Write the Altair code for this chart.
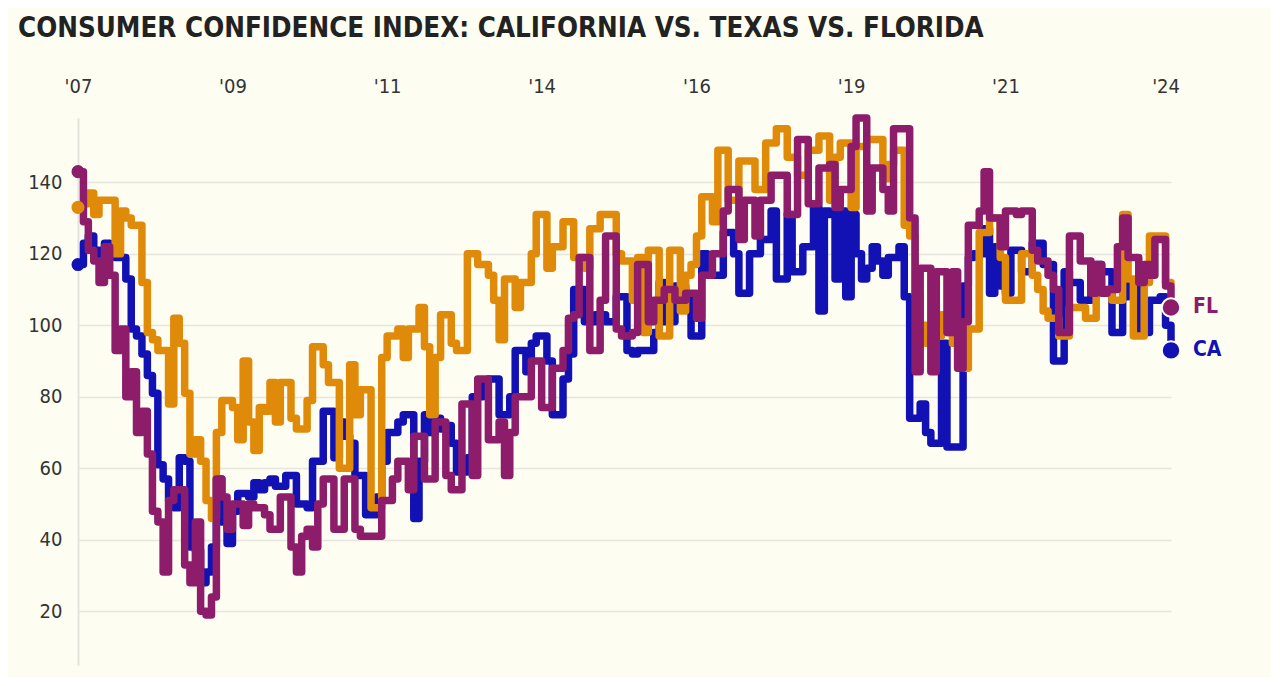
import altair as alt
import pandas as pd

TITLE = "CONSUMER CONFIDENCE INDEX: CALIFORNIA VS. TEXAS VS. FLORIDA"
START = "2007-01-01"

CA = [117,123,125,121,119,123,120,119,119,113,99,97,92,86,81,61,57,51,49,63,62,38,37,28,31,38,57,45,39,48,53,53,52,56,
      54,56,57,55,55,58,58,50,50,49,62,62,76,76,63,73,69,67,58,58,47,47,52,62,70,70,73,75,75,46,62,75,70,74,71,72,
      67,59,59,63,80,80,84,85,85,75,75,80,93,93,87,95,97,97,90,75,75,85,92,110,110,101,101,103,103,101,101,108,108,93,
      92,93,93,93,98,112,101,101,111,111,107,97,97,120,114,114,114,126,126,120,109,109,120,120,124,124,132,113,113,131,115,115,122,122,133,104,132,
      131,113,132,108,131,120,113,116,122,118,114,119,119,122,108,74,74,78,70,67,67,95,66,66,66,111,119,120,120,127,109,122,
      111,109,121,121,115,115,123,123,117,117,90,90,115,112,112,107,107,117,117,115,115,98,98,108,112,112,98,98,107,107,108,100,93]

TX = [133,134,137,131,135,135,135,120,132,130,128,128,112,98,96,93,93,78,102,95,81,64,68,62,51,46,70,79,79,77,68,90,73,65,
      77,76,84,73,84,84,74,71,71,79,94,94,89,84,84,60,60,89,75,82,82,49,49,91,97,97,99,91,99,99,105,94,75,91,103,103,
      95,93,93,120,120,117,117,114,107,96,113,113,105,112,112,120,131,131,116,122,122,129,129,119,119,116,127,127,131,131,131,120,118,118,
      107,119,98,121,121,97,97,121,121,104,114,117,125,136,136,129,149,149,135,135,146,146,146,138,138,151,151,155,155,147,147,142,142,149,149,153,153,
      135,147,151,151,133,150,150,152,152,152,141,145,149,149,128,125,109,100,95,100,97,103,98,95,88,88,99,99,126,126,130,130,
      119,107,107,107,120,120,114,110,104,102,102,97,97,105,105,105,102,102,113,110,110,107,107,131,113,97,97,112,125,125,125,112,112]

FL = [143,129,121,118,112,122,114,93,99,80,87,70,76,64,48,45,31,51,54,54,33,28,45,20,19,24,57,52,43,50,50,44,50,49,
      49,47,43,43,52,52,38,31,41,43,38,50,57,57,43,43,57,57,43,41,41,41,41,51,51,57,62,62,54,69,69,57,57,73,73,58,
      54,54,78,78,58,85,85,68,68,73,58,70,80,80,80,90,90,77,77,88,88,93,102,103,119,119,93,93,107,125,125,99,97,97,
      98,117,117,101,107,107,110,110,107,107,109,109,102,114,114,120,120,132,138,138,124,135,135,125,135,135,142,142,142,131,131,152,152,134,134,144,144,
      145,133,138,138,150,158,158,132,144,144,138,132,155,155,155,130,87,116,116,87,115,115,98,115,88,101,128,128,132,143,130,130,
      122,132,132,131,132,132,121,118,118,114,110,98,98,125,125,118,118,109,117,109,110,110,122,130,119,119,112,117,114,124,124,111,105]

SERIES = ["CA", "TX", "FL"]
COLORS = ["#1212b4", "#e08a0a", "#8d1c6b"]
LABELED = ["FL", "CA"]
Y_TICKS = [20, 40, 60, 80, 100, 120, 140]
X_TICKS = [(2007, 1), (2009, 6), (2011, 11), (2014, 4), (2016, 9), (2019, 2), (2021, 7), (2024, 1)]

FONT = "Liberation Sans Narrow, DejaVu Sans Condensed, Roboto, sans-serif"

dates = pd.date_range(START, periods=len(CA), freq="MS")
rows = []
for name, vals in zip(SERIES, [CA, TX, FL]):
    for d, v in zip(dates, vals):
        rows.append({"date": d, "series": name, "value": v})
df = pd.DataFrame(rows)
first = df[df["date"] == dates[0]]
last = df[(df["date"] == dates[-1]) & (df["series"].isin(LABELED))]

color = alt.Color("series:N", scale=alt.Scale(domain=SERIES, range=COLORS), legend=None)
x = alt.X(
    "date:T",
    scale=alt.Scale(domain=[alt.DateTime(year=2007, month=1, date=1),
                            alt.DateTime(year=2024, month=2, date=1)]),
    axis=alt.Axis(
        orient="top", title=None, grid=False, ticks=False, domain=False,
        values=[alt.DateTime(year=yy, month=mm, date=1) for yy, mm in X_TICKS],
        format="'%y", labelFont=FONT, labelFontSize=20, labelColor="#333333",
        labelPadding=22, labelFlush=False,
    ),
)
y = alt.Y(
    "value:Q",
    scale=alt.Scale(domain=[5, 158], nice=False, zero=False),
    axis=alt.Axis(
        title=None, values=Y_TICKS, ticks=False, labelPadding=16,
        labelFont=FONT, labelFontSize=20, labelColor="#333333",
        domainColor="#e4e4dc", domainWidth=2, gridColor="#e6e6de", gridWidth=1.5,
    ),
)

line_layers = [
    alt.Chart(df[df["series"] == s]).mark_line(
        interpolate="step-after", strokeWidth=7.5, strokeCap="round", strokeJoin="round"
    ).encode(x=x, y=y, color=color)
    for s in SERIES
]

start_dots = alt.Chart(first).mark_point(filled=True, size=170, opacity=1).encode(
    x=x, y=y, color=color)
end_dots = alt.Chart(last).mark_point(filled=True, size=340, opacity=1,
                                      stroke="white", strokeWidth=2).encode(
    x=x, y=y, fill=alt.Fill("series:N", scale=alt.Scale(domain=SERIES, range=COLORS), legend=None))
end_labels = alt.Chart(last).mark_text(
    align="left", baseline="middle", dx=22, font=FONT, fontSize=21, fontWeight="bold"
).encode(x=x, y=y, text="series:N", color=color)

chart = alt.layer(*line_layers, start_dots, end_dots, end_labels).properties(
    width=1093, height=547,
    autosize=alt.AutoSizeParams(type="none"),
    padding={"left": 70, "top": 110, "right": 100, "bottom": 12},
    background="#fdfdf1",
    title=alt.TitleParams(
        TITLE, anchor="start", frame="group", dx=-60, offset=34,
        font=FONT, fontSize=27.5, fontWeight="bold", color="#222222",
    ),
).configure_view(stroke=None)

chart.save("out.html", embed_options={"renderer": "svg", "actions": False})
